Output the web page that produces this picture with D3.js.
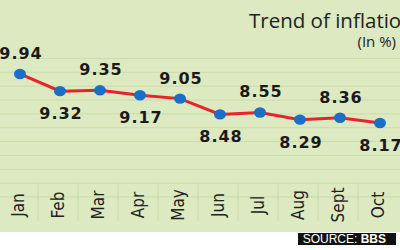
<!DOCTYPE html>
<html>
<head>
<meta charset="utf-8">
<script src="https://cdn.jsdelivr.net/npm/d3@7"></script>
<style>
  body { margin: 0; background: #fff; }
  svg { display: block; }
</style>
</head>
<body>
<div id="chart_container"></div>
<script>
const months = ["Jan", "Feb", "Mar", "Apr", "May", "Jun", "Jul", "Aug", "Sept", "Oct"];
const inflation = [9.94, 9.32, 9.35, 9.17, 9.05, 8.48, 8.55, 8.29, 8.36, 8.17];
const gridValues = [5.5, 6, 6.5, 7, 7.5, 8, 8.5, 9, 9.5, 10, 10.5];

const width = 400;
const height = 250;
const panelBottom = 232;
const axisTop = 183;

const svg = d3.select("#chart_container")
  .append("svg")
  .attr("width", width)
  .attr("height", height);

// green panel
svg.append("rect")
  .attr("x", 0)
  .attr("y", 0)
  .attr("width", width)
  .attr("height", panelBottom)
  .attr("fill", "#dce9c1");

const xScale = d3.scaleBand()
  .domain(months)
  .range([0, width])
  .padding(0);

const yScale = d3.scaleLinear()
  .domain([8, 10])
  .range([127.7, 72.3]);

// faint horizontal lines
svg.append("g")
  .selectAll("line")
  .data(gridValues)
  .join("line")
  .attr("x1", 0)
  .attr("x2", width)
  .attr("y1", d => yScale(d))
  .attr("y2", d => yScale(d))
  .attr("stroke", "#cadcab")
  .attr("stroke-width", 1);

// separators in the month band
svg.append("g")
  .selectAll("line")
  .data(months.slice(1))
  .join("line")
  .attr("x1", d => xScale(d) - 2)
  .attr("x2", d => xScale(d) - 2)
  .attr("y1", axisTop)
  .attr("y2", 221)
  .attr("stroke", "#cadcab")
  .attr("stroke-width", 1);

// month labels
svg.append("g")
  .selectAll("text")
  .data(months)
  .join("text")
  .attr("transform", d => `translate(${xScale(d) + xScale.bandwidth() / 2 - 2}, 205) rotate(-90)`)
  .attr("text-anchor", "middle")
  .attr("dy", "0.35em")
  .attr("font-family", "'Liberation Sans Narrow', 'DejaVu Sans Condensed', sans-serif")
  .attr("font-size", 17)
  .attr("fill", "#222")
  .text(d => d);

const points = months.map((m, i) => ({ month: m, value: inflation[i], i: i }));
const cx = d => xScale(d.month) + xScale.bandwidth() / 2;

const line = d3.line()
  .x(cx)
  .y(d => yScale(d.value));

svg.append("path")
  .datum(points)
  .attr("d", line)
  .attr("fill", "none")
  .attr("stroke", "#e8232b")
  .attr("stroke-width", 3);

svg.append("g")
  .selectAll("ellipse")
  .data(points)
  .join("ellipse")
  .attr("cx", cx)
  .attr("cy", d => yScale(d.value))
  .attr("rx", 6)
  .attr("ry", 5.2)
  .attr("fill", "#1b6fc6");

// value labels, alternating above / below
svg.append("g")
  .selectAll("text")
  .data(points)
  .join("text")
  .attr("x", d => cx(d) + 1)
  .attr("y", d => yScale(d.value) + (d.i % 2 === 0 ? -15 : 28))
  .attr("text-anchor", "middle")
  .attr("font-family", "'DejaVu Sans', sans-serif")
  .attr("font-weight", "bold")
  .attr("font-size", 16)
  .attr("letter-spacing", 1)
  .attr("fill", "#1a1a1a")
  .text(d => d3.format(".2f")(d.value));

// title
svg.append("text")
  .attr("x", 249)
  .attr("y", 28)
  .attr("font-family", "'Open Sans', sans-serif")
  .attr("font-size", 20.5)
  .attr("fill", "#222")
  .text("Trend of inflation");

svg.append("text")
  .attr("x", 396)
  .attr("y", 47)
  .attr("text-anchor", "end")
  .attr("font-family", "'Open Sans', sans-serif")
  .attr("font-size", 15)
  .attr("fill", "#222")
  .text("(In %)");

// source box
svg.append("rect")
  .attr("x", 298)
  .attr("y", 233)
  .attr("width", 98)
  .attr("height", 12)
  .attr("fill", "#111");

const source = svg.append("text")
  .attr("x", 386)
  .attr("y", 243)
  .attr("text-anchor", "end")
  .attr("font-family", "'Liberation Sans Narrow', sans-serif")
  .attr("font-size", 12)
  .attr("fill", "#fff");
source.append("tspan").text("SOURCE: ");
source.append("tspan").attr("font-weight", "bold").text("BBS");
</script>
</body>
</html>
